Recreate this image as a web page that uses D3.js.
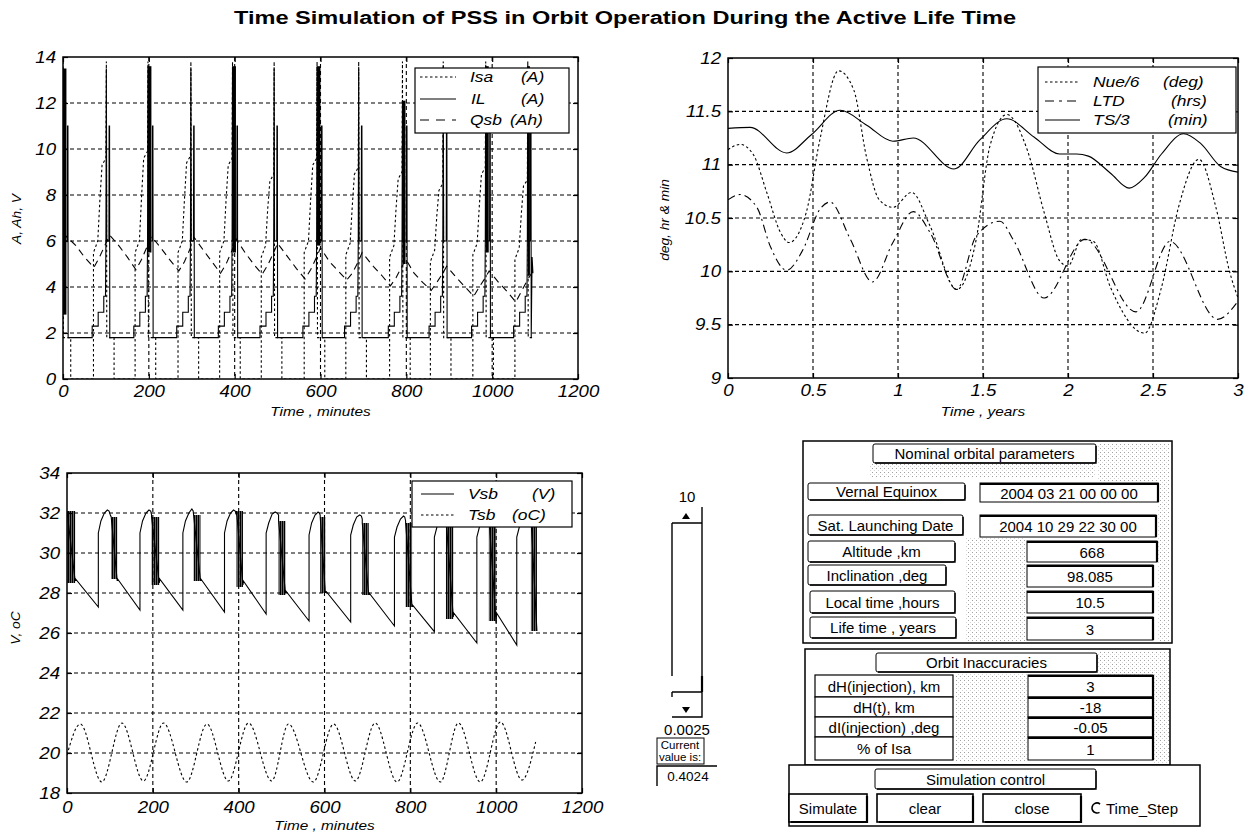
<!DOCTYPE html>
<html>
<head>
<meta charset="utf-8">
<script src="https://cdn.jsdelivr.net/npm/d3@7"></script>
<style>
  body { margin: 0; background: #fff; }
  svg text { font-family: "Liberation Sans", Arial, sans-serif; }
</style>
</head>
<body>
<svg id="fig" width="1250" height="832"></svg>
<script>
var svg = d3.select("#fig");

// ---------- top left : currents and battery charge, minutes ----------
var minuteTicks = [0, 200, 400, 600, 800, 1000, 1200];
var ampTicks = [0, 2, 4, 6, 8, 10, 12, 14];

// IL (A), load current
var ilData = [
  [0,2.8],[0.5,13.5],[1,6],[10,6],[10.5,11],[11.5,11],[12,1.8],[68,1.8],[68,2.3],[82,2.3],[82,2.9],[95,2.9],[95,3.6],[99,3.6],[100,6],
  [101,13.5],[102,6],[107,6],[107.5,11],[108.5,11],[109,1.8],[165,1.8],[165,2.3],[179,2.3],[179,2.9],[192,2.9],[192,3.6],[196,3.6],[197,6],
  [198,13.6],[199,6],[208,6],[208.5,11],[209.5,11],[210,1.8],[265,1.8],[265,2.3],[279,2.3],[279,2.9],[292,2.9],[292,3.6],[296,3.6],[297,6],
  [298,13.5],[299,6],[304,6],[304.5,11],[305.5,11],[306,1.8],[362,1.8],[362,2.3],[376,2.3],[376,2.9],[389,2.9],[389,3.6],[393,3.6],[394,6],
  [395,13.6],[396,6],[405,6],[405.5,11],[406.5,11],[407,1.8],[459,1.8],[459,2.3],[473,2.3],[473,2.9],[486,2.9],[486,3.6],[490,3.6],[491,6],
  [492,13.5],[493,6],[498,6],[498.5,11],[499.5,11],[500,1.8],[559,1.8],[559,2.3],[573,2.3],[573,2.9],[586,2.9],[586,3.6],[590,3.6],[591,6],
  [592,13.6],[593,6],[602,6],[602.5,11],[603.5,11],[604,1.8],[656,1.8],[656,2.3],[670,2.3],[670,2.9],[683,2.9],[683,3.6],[687,3.6],[688,6],
  [689,13.5],[690,6],[695,6],[695.5,11],[696.5,11],[697,1.8],[758,1.8],[758,2.3],[772,2.3],[772,2.9],[785,2.9],[785,3.6],[789,3.6],[790,6],
  [791,12.1],[792,6],[800,6],[800.5,11],[801.5,11],[802,1.8],[853,1.8],[853,2.3],[867,2.3],[867,2.9],[880,2.9],[880,3.6],[884,3.6],[885,6],
  [886,13.6],[887,6],[893,6],[893.5,11],[894.5,11],[895,1.8],[952,1.8],[952,2.3],[966,2.3],[966,2.9],[979,2.9],[979,3.6],[983,3.6],[984,6],
  [985,13.6],[986,6],[994,6],[994.5,11],[995.5,11],[996,1.8],[1050,1.8],[1050,2.3],[1064,2.3],[1064,2.9],[1077,2.9],[1077,3.6],[1081,3.6],[1082,6],
  [1083,13.6],[1084,6],[1089,6],[1089.5,11],[1090.5,11],[1091,1.8],[1093,5.3],[1095,4.6]
];
// dense IL switching at sunlight entry: [t0, t1, low, high]
var ilBands = [
  [0,8,2.8,13.5],[198,206,5.5,13.6],[395,403,5.5,13.6],[592,600,5.8,13.6],
  [791,798,5,12.1],[985,992,5.5,13.6],[1083,1088,4.5,13.6]
];
// Isa (A), solar array current
var isaData = [
  [0,13.8],[1,1.8],[18,1.8],[18,0],[71,0],[71,5.5],[81,6.0],[86,7.8],[91,9.3],[100,9.6],[101,13.8],
  [102,1.8],[119,1.8],[119,0],[168,0],[168,5.5],[178,6.0],[183,7.9],[188,9.6],[197,9.9],[198,13.8],
  [199,1.8],[216,1.8],[216,0],[268,0],[268,5.5],[278,6.0],[283,7.8],[288,9.4],[297,9.7],[298,13.8],
  [299,1.8],[316,1.8],[316,0],[365,0],[365,5.5],[375,6.0],[380,7.8],[385,9.3],[394,9.6],[395,13.8],
  [396,1.8],[413,1.8],[413,0],[462,0],[462,5.3],[472,5.8],[477,7.4],[482,8.6],[491,8.9],[492,13.8],
  [493,1.8],[510,1.8],[510,0],[562,0],[562,5.5],[572,6.0],[577,7.8],[582,9.3],[591,9.6],[592,13.8],
  [593,1.8],[610,1.8],[610,0],[659,0],[659,5.4],[669,5.9],[674,7.5],[679,8.9],[688,9.2],[689,13.8],
  [690,1.8],[707,1.8],[707,0],[761,0],[761,5.3],[771,5.8],[776,7.4],[781,8.7],[790,9.0],[791,13.8],
  [792,1.8],[809,1.8],[809,0],[856,0],[856,5.1],[866,5.6],[871,7.1],[876,8.2],[885,8.5],[886,13.8],
  [887,1.8],[904,1.8],[904,0],[955,0],[955,5.4],[965,5.9],[970,7.5],[975,8.9],[984,9.2],[985,13.8],
  [986,1.8],[1003,1.8],[1003,0],[1053,0],[1053,5.2],[1063,5.7],[1068,7.2],[1073,8.4],[1082,8.65],[1083,13.8],
  [1084,1.8],[1093,1.8]
];
// Qsb (Ah), battery charge
var qsbData = [
  [0,6.0],[8,6.2],[30,5.8],[50,5.3],[72,4.85],[85,5.3],[100,5.9],[109,6.25],
  [130,5.8],[150,5.3],[170,4.75],[183,5.2],[197,5.8],[206,6.2],
  [228,5.7],[248,5.2],[270,4.7],[283,5.1],[297,5.7],[306,6.15],
  [327,5.6],[347,5.1],[367,4.6],[380,5.0],[394,5.6],[403,6.1],
  [424,5.5],[444,5.0],[464,4.55],[477,4.95],[491,5.5],[500,5.9],
  [524,5.3],[544,4.8],[564,4.35],[577,4.75],[591,5.3],[600,5.7],
  [621,5.1],[641,4.7],[661,4.3],[674,4.6],[688,5.1],[697,5.5],
  [723,4.9],[743,4.5],[763,4.05],[776,4.4],[790,4.9],[799,5.2],
  [818,4.6],[838,4.2],[858,3.85],[871,4.2],[885,4.6],[894,4.9],
  [917,4.4],[937,4.0],[957,3.6],[970,4.0],[984,4.4],[993,4.7],
  [1015,4.2],[1035,3.8],[1055,3.35],[1068,3.8],[1082,4.3],[1092,4.6]
];

// ---------- top right : orbit drift, years ----------
var yearTicks = [0, 0.5, 1, 1.5, 2, 2.5, 3];
var degTicks = [9, 9.5, 10, 10.5, 11, 11.5, 12];
var tsYears = [0, 0.13, 0.345, 0.49, 0.66, 0.816, 0.97, 1.09, 1.33, 1.48, 1.64, 1.8, 1.95, 2.05, 2.12, 2.25, 2.36, 2.45, 2.55, 2.68, 2.78, 2.9, 3.0];
var tsVals = [11.34, 11.35, 11.11, 11.28, 11.51, 11.37, 11.22, 11.25, 10.96, 11.23, 11.43, 11.26, 11.1, 11.1, 11.08, 10.92, 10.78, 10.88, 11.1, 11.29, 11.2, 10.98, 10.93];
var nueYears = [0, 0.07, 0.147, 0.23, 0.31, 0.36, 0.46, 0.54, 0.65, 0.74, 0.815, 0.89, 0.97, 1.08, 1.19, 1.345, 1.46, 1.54, 1.64, 1.76, 1.86, 1.95, 2.0, 2.08, 2.15, 2.25, 2.45, 2.55, 2.65, 2.77, 2.87, 2.95, 3.0];
var nueVals = [11.14, 11.19, 11.1, 10.73, 10.36, 10.27, 10.55, 11.23, 11.88, 11.7, 11.07, 10.67, 10.6, 10.74, 10.42, 9.83, 10.3, 11.17, 11.47, 11.14, 10.55, 10.1, 10.05, 10.3, 10.28, 9.85, 9.42, 9.85, 10.6, 11.05, 10.6, 10.0, 9.75];
var ltdYears = [0, 0.07, 0.17, 0.25, 0.345, 0.44, 0.54, 0.6, 0.72, 0.85, 0.97, 1.09, 1.19, 1.345, 1.46, 1.6, 1.68, 1.86, 2.1, 2.4, 2.6, 2.88, 3.0];
var ltdVals = [10.67, 10.72, 10.6, 10.23, 10.01, 10.2, 10.58, 10.65, 10.3, 9.9, 10.27, 10.56, 10.36, 9.83, 10.33, 10.47, 10.29, 9.75, 10.3, 9.62, 10.28, 9.55, 9.72];

// ---------- bottom left : battery voltage and temperature ----------
var voltTicks = [18, 20, 22, 24, 26, 28, 30, 32, 34];
var vsbData = [
  [0,32.1],[19,28.6],[20,28.7],[73,27.3],[73,31.0],[79,31.6],[87,32.0],[94,32.15],[98,32.1],[101,31.9],
  [103,31.8],[117,28.6],[118,28.7],[170,27.15],[170,31.0],[176,31.6],[184,32.0],[191,32.15],[195,32.1],[197,31.9],
  [197,31.8],[215,28.5],[216,28.7],[270,27.15],[270,31.0],[276,31.6],[284,32.0],[291,32.2],[294,32.1],[295,31.9],
  [295,31.9],[311,28.6],[312,28.7],[367,27.05],[367,31.0],[373,31.6],[381,32.0],[388,32.15],[392,32.1],[395,31.9],
  [395,32.1],[410,28.4],[411,28.6],[464,26.95],[464,31.0],[470,31.5],[478,31.95],[485,32.05],[489,32.0],[493,31.9],
  [493,31.6],[509,28.0],[510,28.1],[564,26.6],[564,30.9],[570,31.5],[578,31.9],[585,32.05],[588,32.0],[590,31.9],
  [590,31.8],[602,28.0],[603,28.1],[661,26.55],[661,30.9],[667,31.4],[675,31.8],[682,31.9],[686,31.85],[688,31.7],
  [688,31.5],[703,27.9],[704,28.0],[763,26.35],[763,30.8],[769,31.3],[777,31.7],[784,31.85],[787,31.8],[789,31.6],
  [789,31.5],[804,27.3],[805,27.4],[856,26.07],[856,30.8],[862,31.3],[870,31.7],[877,31.85],[881,31.8],[883,31.6],
  [883,31.8],[900,26.8],[901,27.0],[955,25.5],[955,30.8],[961,31.3],[969,31.7],[976,31.85],[980,31.8],[983,31.6],
  [983,31.8],[1000,26.5],[1001,27.0],[1048,25.4],[1048,30.8],[1054,31.3],[1062,31.7],[1069,31.85],[1075,31.8],[1081,31.6],
  [1081,31.8],[1095,26.1]
];
var vsbBands = [
  [0,19,28.5,32.1],[103,117,28.7,31.8],[197,215,28.4,31.8],[295,311,28.6,31.9],
  [395,410,28.3,32.1],[493,509,27.9,31.6],[590,602,28.0,31.8],[688,703,27.9,31.5],
  [789,804,27.3,31.5],[883,900,26.7,31.8],[983,1000,26.6,31.8],[1081,1095,26.1,31.8]
];
var tsbData = [
  [0,19.9],[31,21.45],[81,18.55],[128,21.5],[178,18.6],[225,21.5],[279,18.55],[326,21.45],
  [376,18.6],[423,21.5],[477,18.6],[516,21.45],[574,18.55],[621,21.45],[672,18.6],[718,21.5],
  [769,18.55],[817,21.5],[870,18.55],[912,21.5],[963,18.55],[1010,21.55],[1060,18.65],[1092,20.55]
];

// ---------- GUI panel texts ----------
var nominalLabels = ["Vernal Equinox", "Sat. Launching Date", "Altitude ,km", "Inclination ,deg", "Local time ,hours", "Life time , years"];
var nominalValues = ["2004 03 21 00 00 00", "2004 10 29 22 30 00", "668", "98.085", "10.5", "3"];
var inaccLabels = ["dH(injection), km", "dH(t), km", "dI(injection) ,deg", "% of Isa"];
var inaccValues = ["3", "-18", "-0.05", "1"];
var controlButtons = ["Simulate", "clear", "close"];
var sliderMax = "10", sliderMin = "0.0025", sliderValue = "0.4024";

var defs = svg.append("defs");
var stip = defs.append("pattern").attr("id", "stip").attr("width", 4).attr("height", 4)
  .attr("patternUnits", "userSpaceOnUse");
stip.append("rect").attr("x", 0).attr("y", 0).attr("width", 1).attr("height", 1).attr("fill", "#a0a0a0");
stip.append("rect").attr("x", 2).attr("y", 2).attr("width", 1).attr("height", 1).attr("fill", "#d4d4d4");
// dense switching shows as near-solid vertical hatching
var osc = defs.append("pattern").attr("id", "osc").attr("width", 2).attr("height", 4)
  .attr("patternUnits", "userSpaceOnUse");
osc.append("rect").attr("x", 0).attr("y", 0).attr("width", 1.6).attr("height", 4).attr("fill", "#000");

function stretch(sel, k) {
  sel.each(function() {
    var len = this.getComputedTextLength();
    d3.select(this).attr("textLength", len * k).attr("lengthAdjust", "spacingAndGlyphs");
  });
}

// title
svg.append("text")
  .attr("x", 625).attr("y", 24)
  .attr("text-anchor", "middle")
  .attr("font-weight", "bold")
  .attr("font-size", 17.5)
  .attr("textLength", 782).attr("lengthAdjust", "spacingAndGlyphs")
  .text("Time Simulation of PSS in Orbit Operation During the Active Life Time");

function drawPanel(p) {
  var x = d3.scaleLinear().domain(p.xDomain).range([p.left, p.right]);
  var y = d3.scaleLinear().domain(p.yDomain).range([p.bottom, p.top]);
  var g = svg.append("g");

  defs.append("clipPath").attr("id", p.id).append("rect")
    .attr("x", p.left).attr("y", p.top)
    .attr("width", p.right - p.left).attr("height", p.bottom - p.top);

  var grid = g.append("g")
    .attr("stroke", "#000").attr("stroke-width", 1.1).attr("stroke-dasharray", "4,3");
  grid.selectAll("line.gv").data(p.xTicks.slice(1, -1)).enter().append("line")
    .attr("class", "gv")
    .attr("x1", function(d) { return x(d); }).attr("x2", function(d) { return x(d); })
    .attr("y1", p.top).attr("y2", p.bottom);
  grid.selectAll("line.gh").data(p.yTicks.slice(1, -1)).enter().append("line")
    .attr("class", "gh")
    .attr("y1", function(d) { return y(d); }).attr("y2", function(d) { return y(d); })
    .attr("x1", p.left).attr("x2", p.right);

  var plot = g.append("g").attr("clip-path", "url(#" + p.id + ")");

  var blank = function() { return ""; };
  var fmt = function(d) { return String(d); };
  var axes = g.append("g");
  axes.append("g").attr("transform", "translate(0," + p.bottom + ")")
    .call(d3.axisBottom(x).tickValues(p.xTicks).tickFormat(fmt).tickSize(-5).tickPadding(p.xPad));
  axes.append("g").attr("transform", "translate(0," + p.top + ")")
    .call(d3.axisTop(x).tickValues(p.xTicks).tickFormat(blank).tickSize(-5));
  axes.append("g").attr("transform", "translate(" + p.left + ",0)")
    .call(d3.axisLeft(y).tickValues(p.yTicks).tickFormat(fmt).tickSize(-5).tickPadding(7));
  axes.append("g").attr("transform", "translate(" + p.right + ",0)")
    .call(d3.axisRight(y).tickValues(p.yTicks).tickFormat(blank).tickSize(-5));
  axes.selectAll(".domain").remove();
  axes.selectAll(".tick line").attr("stroke", "#000").attr("stroke-width", 1.2);
  axes.selectAll("g").attr("font-family", null).attr("font-size", null);
  var labels = axes.selectAll(".tick text")
    .attr("fill", "#000")
    .attr("font-style", "italic")
    .attr("font-size", 16.5);
  stretch(labels.filter(function() { return this.textContent !== ""; }), 1.13);

  g.append("rect")
    .attr("x", p.left).attr("y", p.top)
    .attr("width", p.right - p.left).attr("height", p.bottom - p.top)
    .attr("fill", "none").attr("stroke", "#000").attr("stroke-width", 1.5);

  var xl = g.append("text")
    .attr("x", (p.left + p.right) / 2).attr("y", p.xLabelY)
    .attr("text-anchor", "middle").attr("font-style", "italic").attr("font-size", 13)
    .text(p.xLabel);
  stretch(xl, 1.18);
  var yl = g.append("text")
    .attr("transform", "translate(" + p.yLabelX + "," + p.yLabelY + ") rotate(-90)")
    .attr("text-anchor", "middle").attr("font-style", "italic").attr("font-size", 12.5)
    .text(p.yLabel);
  stretch(yl, 1.1);

  return { x: x, y: y, g: g, plot: plot };
}

function addLine(ax, data, dash, curve, width) {
  ax.plot.append("path")
    .datum(data)
    .attr("fill", "none")
    .attr("stroke", "#000")
    .attr("stroke-width", width || 1.1)
    .attr("stroke-dasharray", dash)
    .attr("d", d3.line()
      .x(function(d) { return ax.x(d[0]); })
      .y(function(d) { return ax.y(d[1]); })
      .curve(curve || d3.curveLinear));
}

function addBands(ax, bands, fill) {
  ax.plot.selectAll("rect.band").data(bands).enter().append("rect")
    .attr("class", "band")
    .attr("x", function(d) { return ax.x(d[0]); })
    .attr("width", function(d) { return Math.max(ax.x(d[1]) - ax.x(d[0]), 1.5); })
    .attr("y", function(d) { return ax.y(d[3]); })
    .attr("height", function(d) { return ax.y(d[2]) - ax.y(d[3]); })
    .attr("fill", fill);
}

function zip(xs, ys) {
  return xs.map(function(v, i) { return [v, ys[i]]; });
}

function legend(box, rows) {
  var g = svg.append("g");
  g.append("rect")
    .attr("x", box[0]).attr("y", box[1]).attr("width", box[2]).attr("height", box[3])
    .attr("fill", "#fff").attr("stroke", "#000").attr("stroke-width", 1.2);
  rows.forEach(function(r) {
    g.append("line")
      .attr("x1", r.x1).attr("x2", r.x2).attr("y1", r.y).attr("y2", r.y)
      .attr("stroke", "#000").attr("stroke-width", 1.1).attr("stroke-dasharray", r.dash);
    var t1 = g.append("text").attr("x", r.nx).attr("y", r.y + 5)
      .attr("font-style", "italic").attr("font-size", 14.5).text(r.name);
    var t2 = g.append("text").attr("x", r.ux).attr("y", r.y + 5)
      .attr("font-style", "italic").attr("font-size", 14.5).text(r.unit);
    stretch(t1, 1.2);
    stretch(t2, 1.2);
  });
}

// ---- top-left chart ----
var ax1 = drawPanel({
  id: "c1", left: 63, right: 578, top: 57, bottom: 379,
  xDomain: [0, 1200], yDomain: [0, 14], xTicks: minuteTicks, yTicks: ampTicks, xPad: 6,
  xLabel: "Time , minutes", xLabelY: 416, yLabel: "A, Ah, V", yLabelX: 21, yLabelY: 219
});
addLine(ax1, qsbData, "7,5");
addLine(ax1, isaData, "2.5,2.5");
addBands(ax1, ilBands, "#000");
addLine(ax1, ilData, null);
legend([415, 68, 154, 65], [
  { y: 77, x1: 420, x2: 456, dash: "2.5,2.5", name: "Isa", nx: 470, unit: "(A)", ux: 521 },
  { y: 99, x1: 420, x2: 456, dash: null, name: "IL", nx: 471, unit: "(A)", ux: 521 },
  { y: 120, x1: 420, x2: 456, dash: "9,7", name: "Qsb", nx: 470, unit: "(Ah)", ux: 510 }
]);

// ---- top-right chart ----
var ax2 = drawPanel({
  id: "c2", left: 728, right: 1238, top: 58, bottom: 378,
  xDomain: [0, 3], yDomain: [9, 12], xTicks: yearTicks, yTicks: degTicks, xPad: 6,
  xLabel: "Time , years", xLabelY: 416, yLabel: "deg, hr & min", yLabelX: 669, yLabelY: 220
});
addLine(ax2, zip(nueYears, nueVals), "2.5,2.5", d3.curveMonotoneX);
addLine(ax2, zip(ltdYears, ltdVals), "8,4,2,4", d3.curveMonotoneX);
addLine(ax2, zip(tsYears, tsVals), null, d3.curveMonotoneX);
legend([1038, 67, 198, 66], [
  { y: 82, x1: 1045, x2: 1080, dash: "2.5,2.5", name: "Nue/6", nx: 1093, unit: "(deg)", ux: 1163 },
  { y: 101, x1: 1045, x2: 1080, dash: "9,5,3,5", name: "LTD", nx: 1093, unit: "(hrs)", ux: 1171 },
  { y: 120, x1: 1045, x2: 1080, dash: null, name: "TS/3", nx: 1093, unit: "(min)", ux: 1168 }
]);

// ---- bottom-left chart ----
var ax3 = drawPanel({
  id: "c3", left: 67, right: 582, top: 473, bottom: 793,
  xDomain: [0, 1200], yDomain: [18, 34], xTicks: minuteTicks, yTicks: voltTicks, xPad: 8,
  xLabel: "Time , minutes", xLabelY: 830, yLabel: "V, oC", yLabelX: 20, yLabelY: 628
});
addLine(ax3, tsbData, "2.5,2.5", d3.curveMonotoneX);
addBands(ax3, vsbBands, "url(#osc)");
addLine(ax3, vsbData, null);
legend([412, 481, 160, 46], [
  { y: 494, x1: 421, x2: 454, dash: null, name: "Vsb", nx: 468, unit: "(V)", ux: 532 },
  { y: 515, x1: 421, x2: 454, dash: "2.5,2.5", name: "Tsb", nx: 468, unit: "(oC)", ux: 512 }
]);

// ---------- slider ----------
var ui = svg.append("g").attr("font-size", 15).attr("fill", "#000");
ui.append("text").attr("x", 687).attr("y", 502).attr("text-anchor", "middle").text(sliderMax);
ui.append("path")
  .attr("d", "M672,523H702V507 M672,523V676 M702,523V691 M672,692H702 M672,717H702V692 M672,692V697")
  .attr("fill", "none").attr("stroke", "#000").attr("stroke-width", 1.4);
ui.append("path").attr("d", "M702,676V692").attr("stroke", "#000").attr("stroke-width", 2.2);
ui.append("path").attr("d", "M682,519L690,519L686,513Z").attr("fill", "#000");
ui.append("path").attr("d", "M682,707L690,707L686,713Z").attr("fill", "#000");
ui.append("text").attr("x", 687).attr("y", 735).attr("text-anchor", "middle").text(sliderMin);
ui.append("rect").attr("x", 657).attr("y", 738).attr("width", 47).attr("height", 26)
  .attr("fill", "#fff").attr("stroke", "#000").attr("stroke-width", 1);
ui.append("text").attr("x", 680).attr("y", 749).attr("text-anchor", "middle").attr("font-size", 11.5).text("Current");
ui.append("text").attr("x", 680).attr("y", 761).attr("text-anchor", "middle").attr("font-size", 11.5).text("value is:");
ui.append("path").attr("d", "M657,786V766H717").attr("fill", "none").attr("stroke", "#000").attr("stroke-width", 1.4);
ui.append("text").attr("x", 688).attr("y", 781).attr("text-anchor", "middle").attr("font-size", 13.5).text(sliderValue);

// ---------- parameter panels ----------
function stippleRect(x, y, w, h) {
  ui.append("rect").attr("x", x).attr("y", y).attr("width", w).attr("height", h).attr("fill", "url(#stip)");
}
function labelBox(x, y, w, h, txt) {
  ui.append("rect").attr("x", x).attr("y", y).attr("width", w).attr("height", h).attr("rx", 2)
    .attr("fill", "#fff").attr("stroke", "#000").attr("stroke-width", 1);
  ui.append("path").attr("d", "M" + (x + 2) + "," + (y + h) + "H" + (x + w) + "V" + (y + 2))
    .attr("fill", "none").attr("stroke", "#000").attr("stroke-width", 1.4);
  ui.append("text").attr("x", x + w / 2).attr("y", y + h / 2 + 5.5).attr("text-anchor", "middle").text(txt);
}
function valueBox(x, y, w, h, txt) {
  ui.append("rect").attr("x", x).attr("y", y).attr("width", w).attr("height", h)
    .attr("fill", "#fff").attr("stroke", "#000").attr("stroke-width", 1);
  ui.append("path").attr("d", "M" + x + "," + (y + 1) + "H" + (x + w) + "V" + (y + h))
    .attr("fill", "none").attr("stroke", "#000").attr("stroke-width", 2.2);
  ui.append("text").attr("x", x + w / 2).attr("y", y + h / 2 + 6).attr("text-anchor", "middle").text(txt);
}

// nominal orbital parameters
ui.append("rect").attr("x", 803).attr("y", 441).attr("width", 369).attr("height", 202)
  .attr("fill", "#fff").attr("stroke", "#000").attr("stroke-width", 1.5);
stippleRect(1097, 443, 73, 38);
stippleRect(1158, 481, 12, 160);
stippleRect(966, 538, 60, 103);
stippleRect(870, 464, 226, 14);
labelBox(873, 444, 223, 19, "Nominal orbital parameters");
var nomLabelBox = [[808, 483, 157, 17], [808, 515, 155, 20], [808, 541, 147, 21], [808, 565, 138, 20], [810, 591, 145, 22], [810, 617, 146, 21]];
var nomValueBox = [[980, 483, 178, 19], [980, 515, 176, 22], [1027, 541, 130, 21], [1027, 565, 126, 22], [1027, 591, 126, 22], [1027, 617, 126, 23]];
nominalLabels.forEach(function(t, i) {
  var b = nomLabelBox[i];
  labelBox(b[0], b[1], b[2], b[3], t);
  var v = nomValueBox[i];
  valueBox(v[0], v[1], v[2], v[3], nominalValues[i]);
});

// orbit inaccuracies
ui.append("rect").attr("x", 805).attr("y", 649).attr("width", 365).attr("height", 116)
  .attr("fill", "#fff").attr("stroke", "#000").attr("stroke-width", 1.5);
stippleRect(1097, 651, 72, 30);
stippleRect(1154, 681, 15, 82);
stippleRect(955, 674, 72, 88);
labelBox(876, 653, 221, 19, "Orbit Inaccuracies");
inaccLabels.forEach(function(t, i) {
  var y0 = [675, 697, 717, 737][i], h = [22, 20, 20, 23][i];
  ui.append("rect").attr("x", 815).attr("y", y0).attr("width", 138).attr("height", h)
    .attr("fill", "#fff").attr("stroke", "#000").attr("stroke-width", 1.2);
  ui.append("text").attr("x", 884).attr("y", y0 + h / 2 + 5.5).attr("text-anchor", "middle").text(t);
  valueBox(1028, y0, 125, h, inaccValues[i]);
});

// simulation control
ui.append("rect").attr("x", 789).attr("y", 765).attr("width", 411).attr("height", 61)
  .attr("fill", "#fff").attr("stroke", "#000").attr("stroke-width", 1.5);
labelBox(875, 769, 221, 20, "Simulation control");
var btnBox = [[789, 794, 78, 28], [877, 794, 96, 28], [983, 794, 98, 28]];
controlButtons.forEach(function(t, i) {
  var b = btnBox[i];
  ui.append("rect").attr("x", b[0]).attr("y", b[1]).attr("width", b[2]).attr("height", b[3])
    .attr("fill", "#fff").attr("stroke", "#000").attr("stroke-width", 1.6);
  ui.append("path").attr("d", "M" + (b[0] + 2) + "," + (b[1] + b[3]) + "H" + (b[0] + b[2]) + "V" + (b[1] + 2))
    .attr("fill", "none").attr("stroke", "#000").attr("stroke-width", 2.2);
  ui.append("text").attr("x", b[0] + b[2] / 2).attr("y", b[1] + b[3] / 2 + 6).attr("text-anchor", "middle").text(t);
});
// radio button drawn as an open "C"
ui.append("circle").attr("cx", 1097).attr("cy", 808).attr("r", 5)
  .attr("fill", "none").attr("stroke", "#000").attr("stroke-width", 1.6)
  .attr("stroke-dasharray", "21,10.4").attr("transform", "rotate(60,1097,808)");
ui.append("text").attr("x", 1106).attr("y", 814).text("Time_Step");
</script>
</body>
</html>
